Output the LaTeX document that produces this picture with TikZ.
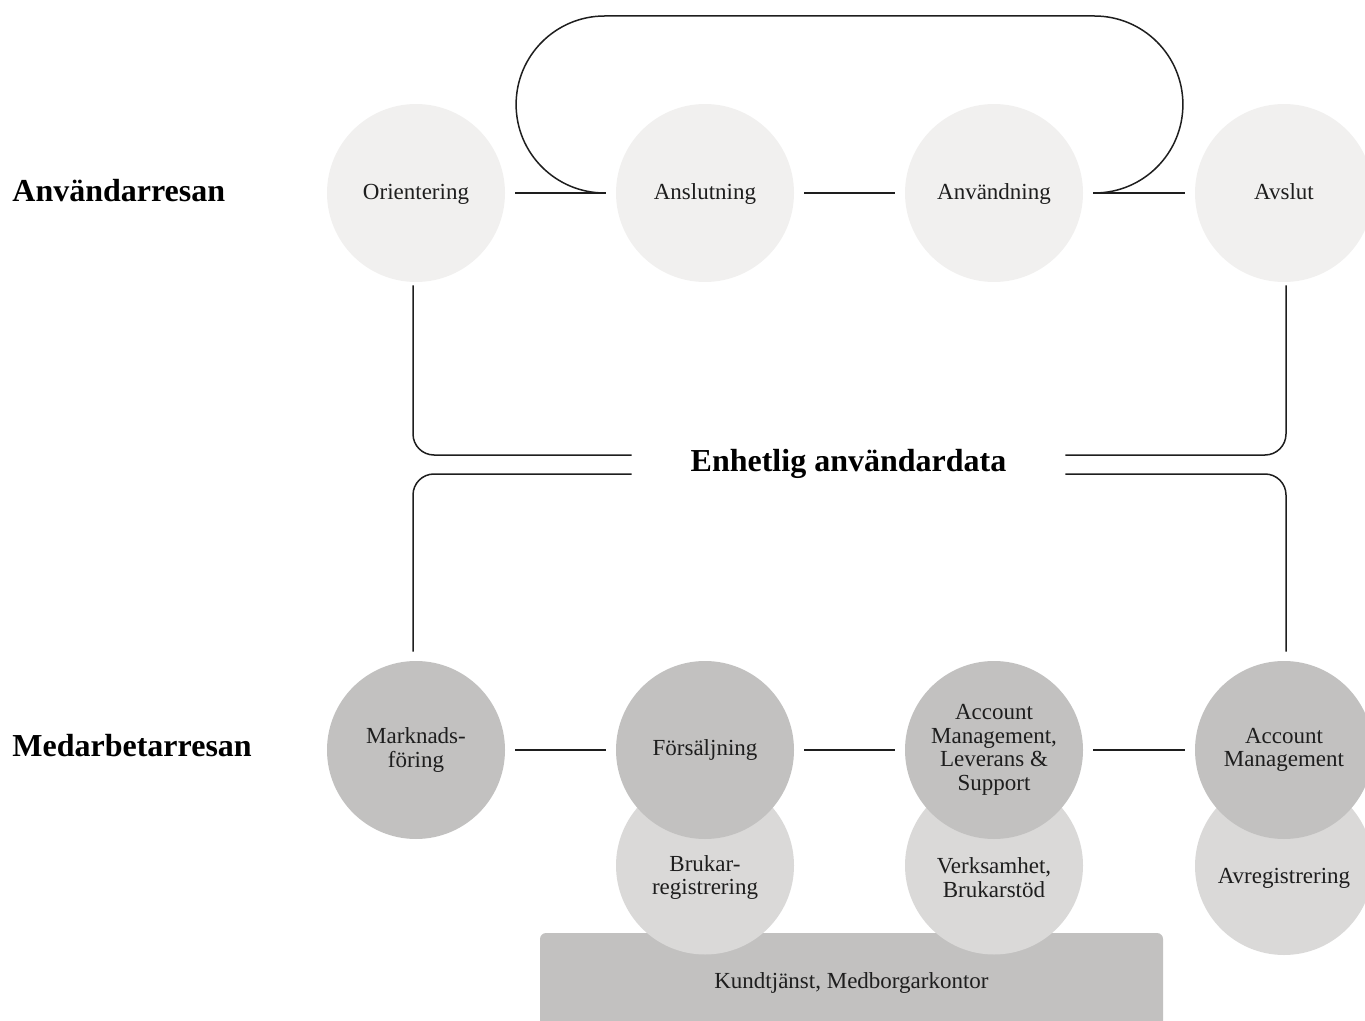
\documentclass[tikz,border=0pt]{standalone}
\usepackage{fontspec}
\setmainfont{Liberation Serif}
\usetikzlibrary{positioning, calc}

\definecolor{paleGray}{HTML}{F1F0EF}
\definecolor{liteGray}{HTML}{DAD9D8}
\definecolor{darkGray}{HTML}{C2C1C0}
\definecolor{inkGray}{HTML}{1E1E1E}

\begin{document}
\begin{tikzpicture}[x=50pt, y=50pt,
  txt/.style={font=\fontsize{11.5}{11.8}\selectfont, align=center, text=inkGray},
  pale/.style={circle, fill=paleGray, minimum size=89pt, inner sep=0pt, txt},
  stage/.style={pale, text height=8pt, text depth=1pt},
  dark/.style={pale, fill=darkGray},
  lite/.style={pale, fill=liteGray},
  head/.style={font=\fontsize{16}{18}\selectfont\bfseries, text=black, inner sep=0pt},
  link/.style={draw=inkGray, line width=0.75pt, shorten <=5pt, shorten >=5pt},
  bus/.style={draw=inkGray, line width=0.75pt, rounded corners=10.5pt},
  box/.style={rectangle, fill=darkGray, rounded corners=3pt,
              minimum width=311.5pt, minimum height=50pt, txt}
]
  \clip (0,0) rectangle (13.65,-10.21);

  % journey titles
  \node[head, anchor=west] (userhead) at (0.12,-1.91) {Användarresan};
  \node[head, anchor=west] (staffhead) at (0.12,-7.46) {Medarbetarresan};

  % user journey
  \node[stage] (orient) at (4.16,-1.93) {Orientering};
  \node[stage] (ansl)   at (7.05,-1.93) {Anslutning};
  \node[stage] (anvd)   at (9.94,-1.93) {Användning};
  \node[stage] (avsl)   at (12.84,-1.93) {Avslut};

  \draw[link] (orient) -- (ansl);
  \draw[link] (ansl) -- (anvd);
  \draw[link] (anvd) -- (avsl);

  % return loop
  \coordinate (loopA) at ($(ansl.west)+(-0.11,0)$);
  \coordinate (loopB) at ($(anvd.east)+(0.11,0)$);
  \draw[draw=inkGray, line width=0.75pt] (loopA)
    arc[start angle=270, end angle=90, radius=44.25pt]
    -- ($(loopB)+(0,1.77)$)
    arc[start angle=90, end angle=-90, radius=44.25pt];

  % shared data
  \node[head, minimum width=216.5pt, minimum height=10pt] (data) at (8.485,-4.64) {Enhetlig användardata};

  % staff journey
  \node[box] (kund) at (8.515,-9.83) {Kundtjänst, Medborgarkontor};

  \node[lite, label={[txt, yshift=-6pt]center:Brukar-\\registrering}] (brukreg) at (7.05,-8.655) {};
  \node[lite, label={[txt, yshift=-6pt]center:Verksamhet,\\Brukarstöd}] (verks) at (9.94,-8.655) {};
  \node[lite, label={[txt, yshift=-6pt]center:Avregistrering}] (avreg) at (12.84,-8.66) {};

  \node[dark] (mark) at (4.16,-7.50) {Marknads-\\föring};
  \node[dark] (fors) at (7.05,-7.50) {Försäljning};
  \node[dark] (accl) at (9.94,-7.50) {Account\\Management,\\Leverans \&\\Support};
  \node[dark] (accm) at (12.84,-7.50) {Account\\Management};

  \draw[link] (mark) -- (fors);
  \draw[link] (fors) -- (accl);
  \draw[link] (accl) -- (accm);

  % links to shared data
  \draw[bus] ($(orient.south)+(-0.03,-0.03)$) |- ($(data.west)+(0,0.09)$);
  \draw[bus] ($(mark.north)+(-0.03,0.09)$) |- ($(data.west)+(0,-0.10)$);
  \draw[bus] ($(avsl.south)+(0.02,-0.03)$) |- ($(data.east)+(0,0.09)$);
  \draw[bus] ($(accm.north)+(0.02,0.09)$) |- ($(data.east)+(0,-0.10)$);
\end{tikzpicture}
\end{document}
